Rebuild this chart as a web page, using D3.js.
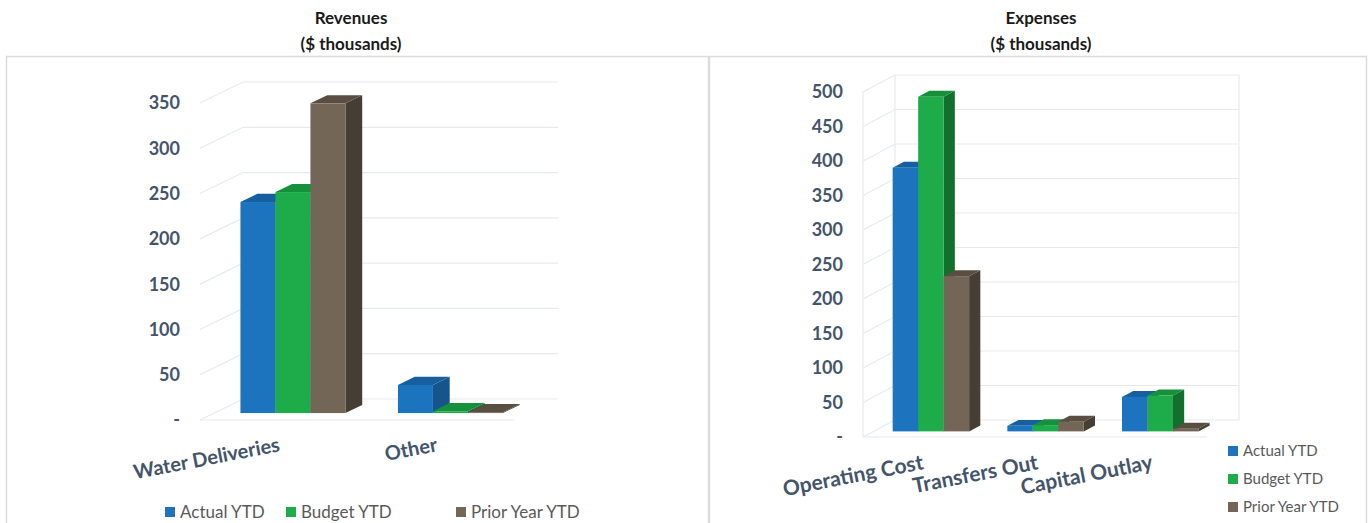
<!DOCTYPE html>
<html>
<head>
<meta charset="utf-8">
<script src="https://cdn.jsdelivr.net/npm/d3@7"></script>
<style>
  body { margin: 0; background: #ffffff; }
  svg { display: block; font-family: Lato, "Open Sans", sans-serif; }
</style>
</head>
<body>
<svg id="chart" width="1369" height="523"></svg>
<script>
// ---- data ($ thousands) ----
const seriesNames = ["Actual YTD", "Budget YTD", "Prior Year YTD"];

const revenueCategories = ["Water Deliveries", "Other"];
const revenueActual = [233, 31];
const revenueBudget = [244, 2];
const revenuePrior  = [342, 1];
const revenueTicks  = [0, 50, 100, 150, 200, 250, 300, 350];

const expenseCategories = ["Operating Cost", "Transfers Out", "Capital Outlay"];
const expenseActual = [382, 8, 50];
const expenseBudget = [485, 9, 52];
const expensePrior  = [225, 14, 4];
const expenseTicks  = [0, 50, 100, 150, 200, 250, 300, 350, 400, 450, 500];

// face shades for each series: front, top, side
const palette = [
  { front: "#1c74bf", top: "#17609f", side: "#15558c" },
  { front: "#1eab4a", top: "#17903c", side: "#126f2c" },
  { front: "#736657", top: "#594e42", side: "#463d34" }
];

const svg = d3.select("#chart");
const axisColor = "#44546a";
const gridColor = "#e6eaf0";
const fmtTick = v => v === 0 ? "-" : d3.format(",")(v);

// panel frames
const frame = svg.append("g").attr("fill", "none").attr("stroke", "#dcdcdc").attr("stroke-width", 1.5);
frame.append("path").attr("d", "M6.5,530 V56.5 H708.5 V530");
frame.append("path").attr("d", "M709.5,530 V56.5 H1366.5 V530");

// titles
function title(cx, lines) {
  const t = svg.append("text").attr("text-anchor", "middle")
    .attr("font-weight", 700).attr("font-size", 17).attr("fill", "#1a1a1a");
  lines.forEach((s, i) => t.append("tspan").attr("x", cx).attr("y", 24 + i * 26).text(s));
}
title(351, ["Revenues", "($ thousands)"]);
title(1041, ["Expenses", "($ thousands)"]);

// pseudo-3D clustered column chart
function columns3d(cfg) {
  const g = svg.append("g");
  const values = [cfg.actual, cfg.budget, cfg.prior];
  const maxTick = cfg.ticks[cfg.ticks.length - 1];
  const y = d3.scaleLinear().domain([0, maxTick]).range([cfg.y0, cfg.yTop]);
  const x = d3.scaleBand().domain(cfg.categories).range([cfg.x0, cfg.x1]).padding(0);
  const xs = d3.scaleBand().domain(d3.range(seriesNames.length))
    .range([0, x.bandwidth()]).paddingInner(0).paddingOuter(0.75);
  const P = (px, py, d) => [px + cfg.dx * d, py + cfg.dy * d];
  const line = d3.line();

  // side wall + back wall gridlines
  const grid = g.append("g").attr("fill", "none").attr("stroke", gridColor).attr("stroke-width", 1.2);
  cfg.ticks.forEach(t => {
    const yy = y(t);
    grid.append("path").attr("d", line([P(cfg.x0, yy, 0), P(cfg.x0, yy, 1), P(cfg.x1, yy, 1)]));
  });
  grid.append("path").attr("d", line([P(cfg.x0, y(0), 0), P(cfg.x1, y(0), 0)]));
  if (cfg.walls) {
    grid.append("path").attr("d", line([P(cfg.x0, y(0), 0), P(cfg.x0, y(maxTick), 0)]));
    grid.append("path").attr("d", line([P(cfg.x0, y(0), 1), P(cfg.x0, y(maxTick), 1)]));
    grid.append("path").attr("d", line([P(cfg.x1, y(0), 1), P(cfg.x1, y(maxTick), 1)]));
  }

  // tick labels
  g.append("g").selectAll("text").data(cfg.ticks).join("text")
    .attr("x", cfg.x0 - 20).attr("y", d => y(d)).attr("dy", "0.36em")
    .attr("text-anchor", "end").attr("font-size", 18).attr("font-weight", 700)
    .attr("fill", axisColor).text(fmtTick);

  // bars, left to right so each bar covers its neighbour's side face
  const d1 = cfg.d1, d2 = cfg.d2;
  const bars = g.append("g");
  cfg.categories.forEach((cat, ci) => {
    seriesNames.forEach((s, si) => {
      const v = values[si][ci];
      const xl = x(cat) + xs(si), xr = xl + xs.bandwidth();
      const yt = y(v), yb = y(0);
      const c = palette[si];
      // right side face
      bars.append("path").attr("fill", c.side)
        .attr("d", line([P(xr, yt, d1), P(xr, yt, d2), P(xr, yb, d2), P(xr, yb, d1)]) + "Z");
      // top face
      bars.append("path").attr("fill", c.top)
        .attr("d", line([P(xl, yt, d1), P(xl, yt, d2), P(xr, yt, d2), P(xr, yt, d1)]) + "Z");
      // front face
      const f0 = P(xl, yt, d1);
      bars.append("rect").attr("fill", c.front)
        .attr("x", f0[0]).attr("y", f0[1])
        .attr("width", xr - xl).attr("height", Math.max(0, yb - yt));
    });
  });

  // category labels, slanted
  g.append("g").selectAll("text").data(cfg.categories).join("text")
    .attr("transform", d => `translate(${x(d) + x.bandwidth() / 2 + cfg.labelDx},${cfg.y0 + cfg.labelDy}) rotate(-11)`)
    .attr("text-anchor", "end").attr("font-size", cfg.labelSize).attr("font-weight", 700)
    .attr("fill", axisColor).text(d => d);
}

columns3d({
  categories: revenueCategories, actual: revenueActual, budget: revenueBudget, prior: revenuePrior,
  ticks: revenueTicks, x0: 200, x1: 515, y0: 420, yTop: 103, dx: 43, dy: -21,
  d1: 0.33, d2: 0.72, walls: false, labelDx: 2, labelDy: 31, labelSize: 20
});
columns3d({
  categories: expenseCategories, actual: expenseActual, budget: expenseBudget, prior: expensePrior,
  ticks: expenseTicks, x0: 863, x1: 1207, y0: 437, yTop: 92, dx: 32, dy: -17,
  d1: 0.33, d2: 0.68, walls: true, labelDx: 4, labelDy: 32, labelSize: 21
});

// legends
function legend(items) {
  const lg = svg.append("g");
  items.forEach((it, i) => {
    lg.append("rect").attr("x", it.x).attr("y", it.y - 5).attr("width", 10).attr("height", 10)
      .attr("fill", palette[i].front);
    lg.append("text").attr("x", it.x + 15).attr("y", it.y).attr("dy", "0.35em")
      .attr("font-size", it.size).attr("fill", "#595959").text(seriesNames[i]);
  });
}
legend([{ x: 165, y: 512, size: 17 }, { x: 286, y: 512, size: 17 }, { x: 456, y: 512, size: 17 }]);
legend([{ x: 1228, y: 451, size: 15 }, { x: 1228, y: 479, size: 15 }, { x: 1228, y: 507, size: 15 }]);
</script>
</body>
</html>
